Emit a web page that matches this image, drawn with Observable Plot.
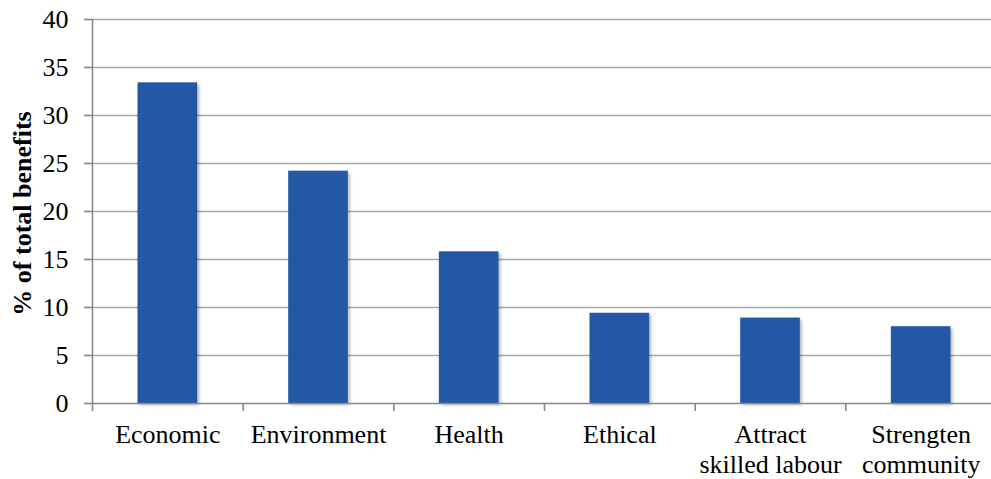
<!DOCTYPE html>
<html>
<head>
<meta charset="utf-8">
<script src="https://cdn.jsdelivr.net/npm/d3@7"></script>
<script src="https://cdn.jsdelivr.net/npm/@observablehq/plot@0.6"></script>
<style>
  html, body { margin: 0; padding: 0; background: #fff; overflow: hidden; }
  svg, svg text { font-family: "Liberation Serif", "Times New Roman", serif !important; }
  .bars rect { filter: drop-shadow(2px 2px 1.5px rgba(0,0,0,0.28)); }
</style>
</head>
<body>
<div id="chart"></div>
<script>
// Share of total benefits by category (%)
const categories = ["Economic", "Environment", "Health", "Ethical", "Attract\nskilled labour", "Strengten\ncommunity"];
const values = [33.4, 24.2, 15.8, 9.4, 8.9, 8.0];
const yTicks = [0, 5, 10, 15, 20, 25, 30, 35, 40];

const data = categories.map((c, i) => ({category: c, index: i, value: values[i]}));
const barHalf = 0.198; // half of the bar width, in category units
const boundaries = d3.range(categories.length + 1);
const centers = categories.map((c, i) => i + 0.5);

const chart = Plot.plot({
  width: 991,
  height: 479,
  marginLeft: 92,
  marginRight: -5,
  marginTop: 19,
  marginBottom: 76,
  style: {fontSize: "26px", color: "#000", background: "#fff"},
  x: {domain: [0, categories.length]},
  y: {domain: [0, 40]},
  marks: [
    Plot.ruleY(yTicks.filter(t => t > 0), {stroke: "#a8a8a8", strokeWidth: 1.6}),
    Plot.rectY(data, {
      x1: d => d.index + 0.5 - barHalf,
      x2: d => d.index + 0.5 + barHalf,
      y: "value",
      fill: "#2358a5",
      className: "bars"
    }),
    Plot.axisY({
      ticks: yTicks,
      tickSize: 8,
      tickPadding: 16,
      stroke: "#888",
      strokeWidth: 1.6,
      label: null,
      fontSize: 26
    }),
    Plot.ruleX([0], {stroke: "#888", strokeWidth: 1.6}),
    Plot.ruleY([0], {stroke: "#888", strokeWidth: 1.6}),
    Plot.axisX({ticks: boundaries, tickSize: 8, tickFormat: () => "", stroke: "#888", strokeWidth: 1.6}),
    Plot.axisX({
      ticks: centers,
      tickSize: 0,
      tickPadding: 18,
      tickFormat: (d) => categories[Math.round(d - 0.5)],
      lineHeight: 1.15,
      fontSize: 26,
      label: null
    }),
    Plot.text(["% of total benefits"], {
      frameAnchor: "left",
      textAnchor: "middle",
      rotate: -90,
      dx: -70,
      dy: 2,
      fontWeight: "bold",
      fontSize: 26,
      fill: "#000"
    })
  ]
});

document.getElementById("chart").appendChild(chart);
</script>
</body>
</html>
